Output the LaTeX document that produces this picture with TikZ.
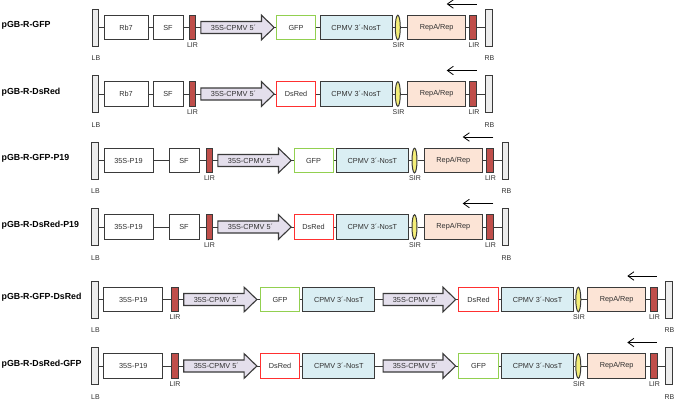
\documentclass[tikz,border=0pt]{standalone}
\usepackage{fontspec}
\setmainfont{Liberation Sans}
\usetikzlibrary{shapes.geometric,arrows.meta}
\definecolor{edge}{HTML}{3A3A3A}
\definecolor{txtc}{HTML}{303030}
\definecolor{barfill}{HTML}{EDEDED}
\definecolor{lirfill}{HTML}{BF4E4A}
\definecolor{promfill}{HTML}{E4DFEC}
\definecolor{cpmvfill}{HTML}{DAEEF3}
\definecolor{sirfill}{HTML}{F4EE78}
\definecolor{repfill}{HTML}{FCE4D6}
\definecolor{gfpc}{HTML}{92D050}
\definecolor{dsredc}{HTML}{FF3030}
\tikzset{
  elem/.style={draw=edge, line width=1pt, inner sep=0, minimum height=24.6pt,
    font=\fontsize{7.3}{8}\selectfont, text=txtc},
  plain/.style={elem, fill=white},
  barst/.style={elem, fill=barfill, minimum height=37pt, minimum width=6.3pt},
  lirst/.style={elem, fill=lirfill, minimum width=6.8pt},
  sirst/.style={elem, ellipse, fill=sirfill, minimum width=5pt},
  gfpst/.style={elem, fill=white, draw=gfpc},
  dsst/.style={elem, fill=white, draw=dsredc},
  cpst/.style={elem, fill=cpmvfill, minimum width=72.3pt},
  repst/.style={elem, fill=repfill, minimum width=58.5pt},
  promnode/.style={inner sep=0, minimum height=24.6pt},
  promst/.style={draw=edge, line width=1.1pt, fill=promfill, line join=miter},
  bb/.style={draw=edge, line width=0.8pt},
  small/.style={font=\fontsize{7}{8}\selectfont, text=txtc, inner sep=0},
  title/.style={font=\bfseries\fontsize{8.8}{10}\selectfont, anchor=west, inner sep=0},
  toparr/.style={line width=0.8pt, -{Straight Barb[length=6pt,width=8.5pt]}},
}
\newcommand\promo[3]{%
  \node[promnode,minimum width=#3pt] (#1) at (#2,\cy) {};
  \draw[promst] ([yshift=6pt]#1.west) -- ([xshift=-12.7pt,yshift=6pt]#1.east)
    -- ([xshift=-12.7pt,yshift=12.3pt]#1.east) -- (#1.east)
    -- ([xshift=-12.7pt,yshift=-12.3pt]#1.east) -- ([xshift=-12.7pt,yshift=-6pt]#1.east)
    -- ([yshift=-6pt]#1.west) -- cycle;
  \node[elem,draw=none] (#1t) at ([xshift=-4pt]#1.center) {35S-CPMV 5´};
}
\newcommand\linkall[1]{%
  \gdef\lkprev{}%
  \foreach \lkn in {#1}{%
    \ifx\lkprev\empty\else\draw[bb] (\lkprev) -- (\lkn);\fi
    \xdef\lkprev{\lkn}%
  }}
% rows with Rb7
\newcommand\rowA[5]{%
  \def\cy{#2}%
  \node[title] (#1-name) at (1.5,{\cy-2}) {#3};
  \node[barst] (#1-lb) at (95.5,\cy) {};
  \node[plain,minimum width=44pt] (#1-rb7) at (126,\cy) {Rb7};
  \node[plain,minimum width=30pt] (#1-sf) at (168,\cy) {SF};
  \node[lirst] (#1-lir1) at (192.5,\cy) {};
  \promo{#1-pr}{237.5}{73}
  \node[#4,minimum width=38.5pt] (#1-fp) at (296,\cy) {#5};
  \node[cpst] (#1-cp) at (356.2,\cy) {CPMV 3´-NosT};
  \node[sirst] (#1-sir) at (397.8,\cy) {};
  \node[repst] (#1-rep) at (436.7,\cy) {RepA/Rep};
  \node[lirst] (#1-lir2) at (473.2,\cy) {};
  \node[barst] (#1-rb) at (489,\cy) {};
  \linkall{#1-lb,#1-rb7,#1-sf,#1-lir1,#1-pr,#1-fp,#1-cp,#1-sir,#1-rep,#1-lir2,#1-rb}
  \node[small] (#1-lirl1) at (192.5,{\cy+18}) {LIR};
  \node[small] (#1-sirl) at (398.5,{\cy+18}) {SIR};
  \node[small] (#1-lirl2) at (474,{\cy+18}) {LIR};
  \node[small] (#1-lbl) at (96,{\cy+31}) {LB};
  \node[small] (#1-rbl) at (489.5,{\cy+31}) {RB};
  \coordinate (#1-as) at (476.7,{\cy-23.5});
  \coordinate (#1-ae) at (446.7,{\cy-23.5});
  \draw[toparr] (#1-as) -- (#1-ae);
}
% rows with 35S-P19 and SF
\newcommand\rowB[5]{%
  \def\cy{#2}%
  \node[title] (#1-name) at (1.5,{\cy-2}) {#3};
  \node[barst] (#1-lb) at (95,\cy) {};
  \node[plain,minimum width=49pt] (#1-p19) at (128.5,\cy) {35S-P19};
  \node[plain,minimum width=30pt] (#1-sf) at (184,\cy) {SF};
  \node[lirst] (#1-lir1) at (209.5,\cy) {};
  \promo{#1-pr}{254.5}{73}
  \node[#4,minimum width=39pt] (#1-fp) at (313.5,\cy) {#5};
  \node[cpst] (#1-cp) at (372.4,\cy) {CPMV 3´-NosT};
  \node[sirst] (#1-sir) at (414.5,\cy) {};
  \node[repst] (#1-rep) at (453.3,\cy) {RepA/Rep};
  \node[lirst] (#1-lir2) at (490,\cy) {};
  \node[barst] (#1-rb) at (505.6,\cy) {};
  \linkall{#1-lb,#1-p19,#1-sf,#1-lir1,#1-pr,#1-fp,#1-cp,#1-sir,#1-rep,#1-lir2,#1-rb}
  \node[small] (#1-lirl1) at (209.5,{\cy+18}) {LIR};
  \node[small] (#1-sirl) at (415,{\cy+18}) {SIR};
  \node[small] (#1-lirl2) at (490.5,{\cy+18}) {LIR};
  \node[small] (#1-lbl) at (95.5,{\cy+31}) {LB};
  \node[small] (#1-rbl) at (506.5,{\cy+31}) {RB};
  \coordinate (#1-as) at (493.3,{\cy-23.5});
  \coordinate (#1-ae) at (462.7,{\cy-23.5});
  \draw[toparr] (#1-as) -- (#1-ae);
}
% rows with two cassettes
\newcommand\rowC[7]{%
  \def\cy{#2}%
  \node[title] (#1-name) at (1.5,{\cy-2}) {#3};
  \node[barst] (#1-lb) at (95,\cy) {};
  \node[plain,minimum width=58.7pt] (#1-p19) at (133.3,\cy) {35S-P19};
  \node[lirst] (#1-lir1) at (175,\cy) {};
  \promo{#1-pra}{220.3}{72.7}
  \node[#4,minimum width=39pt] (#1-fpa) at (280,\cy) {#5};
  \node[cpst] (#1-cpa) at (338.8,\cy) {CPMV 3´-NosT};
  \promo{#1-prb}{419.4}{72.2}
  \node[#6,minimum width=39.5pt] (#1-fpb) at (478.5,\cy) {#7};
  \node[cpst] (#1-cpb) at (537.5,\cy) {CPMV 3´-NosT};
  \node[sirst] (#1-sir) at (578.3,\cy) {};
  \node[repst] (#1-rep) at (616.7,\cy) {RepA/Rep};
  \node[lirst] (#1-lir2) at (654.2,\cy) {};
  \node[barst] (#1-rb) at (668.9,\cy) {};
  \linkall{#1-lb,#1-p19,#1-lir1,#1-pra,#1-fpa,#1-cpa,#1-prb,#1-fpb,#1-cpb,#1-sir,#1-rep,#1-lir2,#1-rb}
  \node[small] (#1-lirl1) at (175,{\cy+18}) {LIR};
  \node[small] (#1-sirl) at (579,{\cy+18}) {SIR};
  \node[small] (#1-lirl2) at (654.5,{\cy+18}) {LIR};
  \node[small] (#1-lbl) at (95.5,{\cy+31}) {LB};
  \node[small] (#1-rbl) at (669.5,{\cy+31}) {RB};
  \coordinate (#1-as) at (656.7,{\cy-23.5});
  \coordinate (#1-ae) at (627.3,{\cy-23.5});
  \draw[toparr] (#1-as) -- (#1-ae);
}
\begin{document}
\begin{tikzpicture}[x=1pt,y=-1pt]
\useasboundingbox (0,0) rectangle (685,405);
\rowA{a}{27.5}{pGB-R-GFP}{gfpst}{GFP}
\rowA{b}{94}{pGB-R-DsRed}{dsst}{DsRed}
\rowB{c}{160.5}{pGB-R-GFP-P19}{gfpst}{GFP}
\rowB{d}{227}{pGB-R-DsRed-P19}{dsst}{DsRed}
\rowC{e}{299.5}{pGB-R-GFP-DsRed}{gfpst}{GFP}{dsst}{DsRed}
\rowC{f}{366}{pGB-R-DsRed-GFP}{dsst}{DsRed}{gfpst}{GFP}
\end{tikzpicture}
\end{document}
